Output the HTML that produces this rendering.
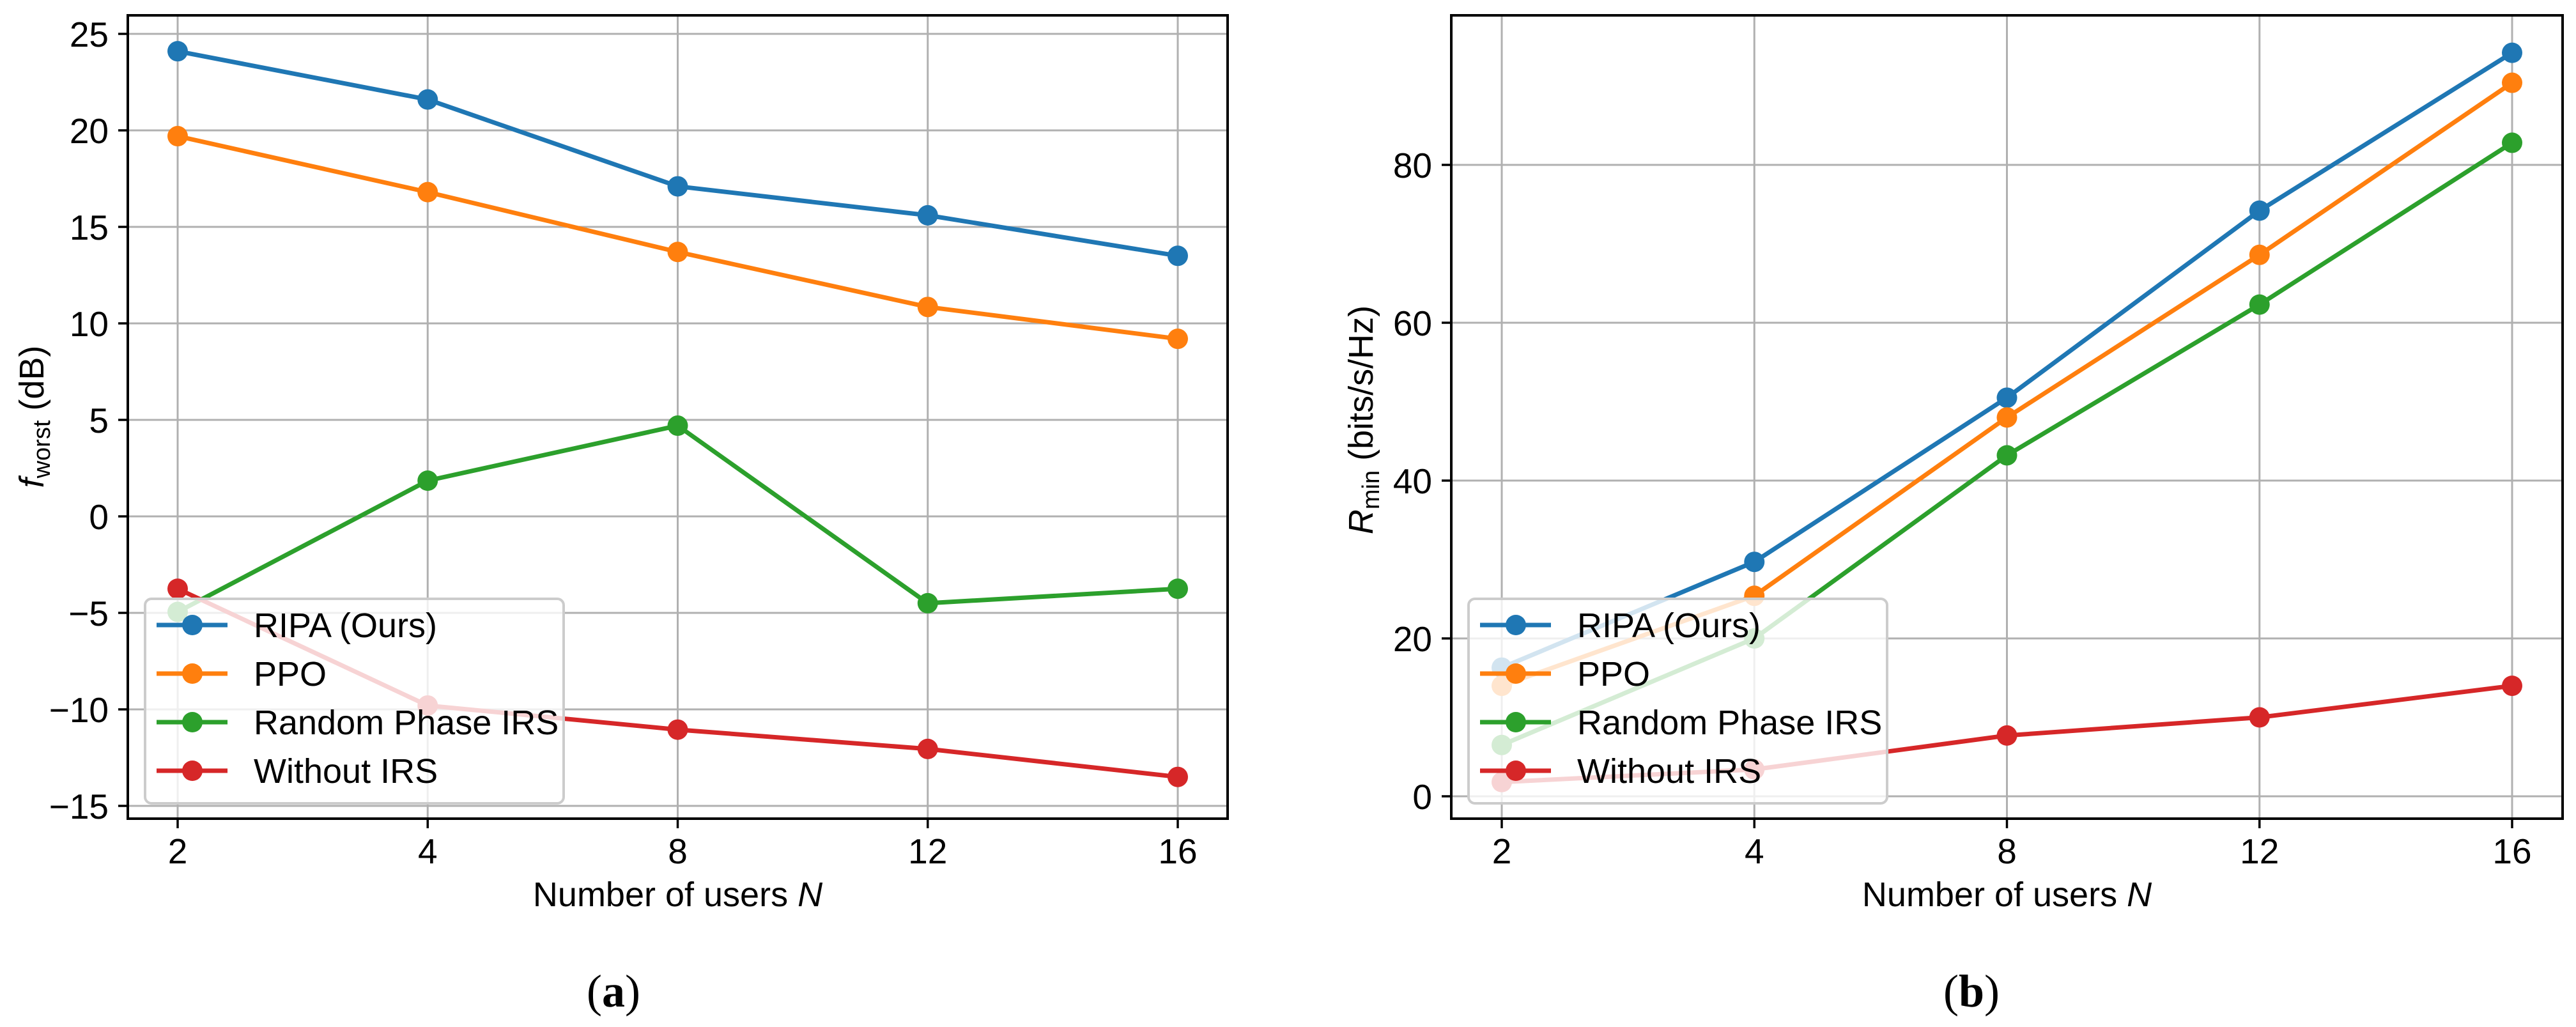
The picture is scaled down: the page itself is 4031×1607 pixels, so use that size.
<!DOCTYPE html>
<html><head><meta charset="utf-8">
<style>
html,body{margin:0;padding:0;background:#fff;}
svg{display:block;font-family:"Liberation Sans",sans-serif;}
</style></head>
<body>
<svg id="fig" width="4031" height="1607" viewBox="0 0 4031 1607" xmlns="http://www.w3.org/2000/svg">
<rect width="4031" height="1607" fill="#fff"/>
</svg>
<script>
const categories = ["2","4","8","12","16"];
const seriesNames = ["RIPA (Ours)","PPO","Random Phase IRS","Without IRS"];
const colors = ["#1f77b4","#ff7f0e","#2ca02c","#d62728"];
const aRipa = [24.1,21.6,17.1,15.6,13.5];
const aPpo = [19.7,16.8,13.7,10.85,9.2];
const aRandom = [-4.95,1.85,4.7,-4.5,-3.75];
const aWithout = [-3.75,-9.8,-11.05,-12.05,-13.5];
const bRipa = [16.3,29.7,50.5,74.2,94.2];
const bPpo = [14.0,25.4,48.0,68.6,90.4];
const bRandom = [6.5,20.0,43.2,62.3,82.8];
const bWithout = [1.8,3.4,7.7,10.0,14.0];
const aTicks = [-15,-10,-5,0,5,10,15,20,25];
const aTickLabels = ["\u221215","\u221210","\u22125","0","5","10","15","20","25"];
const bTicks = [0,20,40,60,80];
const bTickLabels = ["0","20","40","60","80"];

const NS="http://www.w3.org/2000/svg";
const svg=document.getElementById('fig');
function mk(tag,attrs,parent,text){const e=document.createElementNS(NS,tag);for(const k in attrs)e.setAttribute(k,attrs[k]);if(text!==undefined)e.textContent=text;(parent||svg).appendChild(e);return e;}

function panel(cfg){
  const g=mk('g',{});
  
  
  const L=cfg.left,R=cfg.right,T=24,B=1281;
  const xs=i=>cfg.x0+i*(cfg.x1-cfg.x0)/(categories.length-1);
  const ys=v=>cfg.yRef+(cfg.vRef-v)*cfg.ppu;
  categories.forEach((c,i)=>{
    const l=mk('line',{x1:xs(i),x2:xs(i),y1:T,y2:B,stroke:'#b0b0b0','stroke-width':3},g);
    
    
  });
  cfg.ticks.forEach((t,i)=>{
    const l=mk('line',{x1:L,x2:R,y1:ys(t),y2:ys(t),stroke:'#b0b0b0','stroke-width':3},g);
    
    
    const tk=mk('line',{x1:L-15,x2:L,y1:ys(t),y2:ys(t),stroke:'#000','stroke-width':3.5},g);
    
    
    const tx=mk('text',{x:L-30,y:ys(t)+20,'text-anchor':'end','font-size':55,fill:'#000'},g,cfg.tickLabels[i]);
    
    
  });
  categories.forEach((c,i)=>{
    const tk=mk('line',{x1:xs(i),x2:xs(i),y1:B,y2:B+15,stroke:'#000','stroke-width':3.5},g);
    
    
    const tx=mk('text',{x:xs(i),y:B+70,'text-anchor':'middle','font-size':55,fill:'#000'},g,c);
    
    
  });
  cfg.series.forEach((arr,s)=>{
    const sg=mk('g',{},g);
    
    
    const pts=arr.map((v,i)=>xs(i)+','+ys(v)).join(' ');
    const pl=mk('polyline',{points:pts,fill:'none',stroke:colors[s],'stroke-width':7,'stroke-linejoin':'round'},sg);
    
    
    arr.forEach((v,i)=>{
      const c=mk('circle',{cx:xs(i),cy:ys(v),r:16,fill:colors[s]},sg);
      
      
    });
  });
  const fr=mk('rect',{x:L,y:T,width:R-L,height:B-T,fill:'none',stroke:'#000','stroke-width':4},g);
  
  
  const lg=mk('g',{},g);
  
  
  const lx=L+27,ly=937;
  const box=mk('rect',{x:lx,y:ly,width:655,height:320,rx:10,fill:'#fff','fill-opacity':0.8,stroke:'#cccccc','stroke-width':4},lg);
  
  
  seriesNames.forEach((n,s)=>{
    const yy=ly+41+s*76;
    const e=mk('g',{},lg);
    
    
    mk('line',{x1:lx+18,x2:lx+129,y1:yy,y2:yy,stroke:colors[s],'stroke-width':7},e);
    mk('circle',{cx:lx+74,cy:yy,r:16,fill:colors[s]},e);
    mk('text',{x:lx+170,y:yy+19,'font-size':54,fill:'#000'},e,n);
  });
  const xl=mk('text',{x:(cfg.x0+cfg.x1)/2,y:B+137,'text-anchor':'middle','font-size':54,fill:'#000'},g);
  
  
  xl.appendChild(document.createTextNode('Number of users '));
  mk('tspan',{'font-style':'italic'},xl,'N');
  const yl=mk('text',{transform:'translate('+cfg.ylx+','+cfg.yly+') rotate(-90)','text-anchor':'middle','font-size':54,fill:'#000'},g);
  
  
  mk('tspan',{'font-style':'italic'},yl,cfg.ySym);
  mk('tspan',{'font-size':38,dy:10},yl,cfg.ySub);
  mk('tspan',{dy:-10},yl,' '+cfg.yUnit);
  const cap=mk('text',{x:cfg.capX,y:1575,'text-anchor':'middle','font-size':72,'font-family':'"Liberation Serif",serif',fill:'#000'},g);
  
  
  cap.appendChild(document.createTextNode('('));
  mk('tspan',{'font-weight':'bold'},cap,cfg.capLetter);
  cap.appendChild(document.createTextNode(')'));
}

panel({name:'panel-a',left:200,right:1921,x0:278,x1:1843,yRef:53,vRef:25,ppu:30.2,
  ticks:aTicks,tickLabels:aTickLabels,series:[aRipa,aPpo,aRandom,aWithout],
  ylx:68,yly:652,ySym:'f',ySub:'worst',yUnit:'(dB)',capX:960,capLetter:'a'});
panel({name:'panel-b',left:2271,right:4010,x0:2350,x1:3931,yRef:1246,vRef:0,ppu:12.35,
  ticks:bTicks,tickLabels:bTickLabels,series:[bRipa,bPpo,bRandom,bWithout],
  ylx:2148,yly:657,ySym:'R',ySub:'min',yUnit:'(bits/s/Hz)',capX:3085,capLetter:'b'});
</script>
</body></html>
